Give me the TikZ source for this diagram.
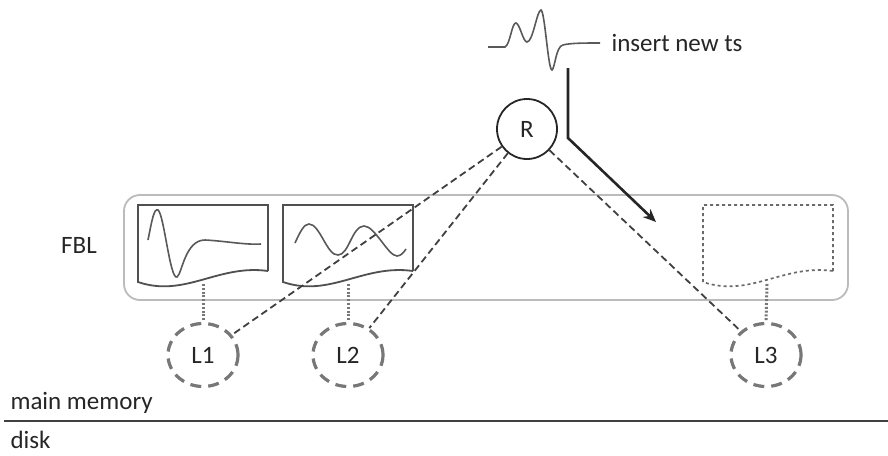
\documentclass[tikz,border=0pt]{standalone}
\usepackage{fontspec}
\setmainfont{Carlito}
\usetikzlibrary{arrows.meta,shapes.geometric}
\definecolor{boxline}{HTML}{505050}
\definecolor{lgray}{HTML}{777777}
\definecolor{fblgray}{HTML}{BBBBBB}
\tikzset{
  lbl/.style={font=\fontsize{25}{29}\selectfont, text=black!85},
  lnode/.style={draw=lgray, line width=3.2pt, dash pattern=on 11pt off 7pt, ellipse, minimum width=70pt, minimum height=63pt, inner sep=0pt, font=\fontsize{25}{29}\selectfont, text=black!85},
  rnode/.style={draw=black!85, line width=1.8pt, circle, minimum size=60pt, inner sep=0pt, font=\fontsize{25}{29}\selectfont, text=black!85},
  doc/.style={draw=boxline, line width=1.8pt},
  wave/.style={draw=black!65, line width=1.6pt},
  link/.style={draw=black!75, line width=1.8pt, dash pattern=on 7pt off 4pt},
  dotlink/.style={draw=lgray, line width=3pt, dash pattern=on 2pt off 1.8pt},
}
\begin{document}
\begin{tikzpicture}[x=1pt,y=-1pt]
\useasboundingbox (0,0) rectangle (888,455);
% FBL container
\draw[fblgray, line width=1.8pt, rounded corners=16pt] (124,195) rectangle (848,300);
\node[lbl] (fbl) at (79,245) {FBL};
% box 1
\draw[doc] (268,271) -- (268,205) -- (138,205) -- (138,282) .. controls (185,298) and (218,264) .. (268,271);
\coordinate (b1) at (203,284);
\draw[wave] (148,240) .. controls (152,220) and (154,208) .. (158,210) .. controls (164,214) and (170,280) .. (177,277) .. controls (182,274) and (185,240) .. (205,240) .. controls (225,241) and (245,245) .. (261,244);
% box 2
\draw[doc] (413,271) -- (413,205) -- (283,205) -- (283,282) .. controls (330,298) and (363,264) .. (413,271);
\coordinate (b2) at (348,284);
\draw[wave] (295,243) .. controls (300,232) and (304,224) .. (309,224) .. controls (320,224) and (327,256) .. (338,255) .. controls (349,255) and (352,226) .. (364,226) .. controls (375,226) and (388,256) .. (397,256) .. controls (401,256) and (404,252) .. (406,249);
% box 3 dotted
\draw[boxline!85, line width=1.7pt, dash pattern=on 3pt off 3pt] (833,271) -- (833,205) -- (703,205) -- (703,282) .. controls (750,298) and (783,264) .. (833,271);
\coordinate (b3) at (767,284);
% L nodes
\node[lnode] (L1) at (203,355) {L1};
\node[lnode] (L2) at (348,355) {L2};
\node[lnode] (L3) at (766,355) {L3};
\draw[dotlink] (b1) -- (L1.north);
\draw[dotlink] (b2) -- (L2.north);
\draw[dotlink] (b3) -- (L3.north);
% R node
\node[rnode] (R) at (527,129) {R};
\draw[link] (R) -- (L1);
\draw[link] (R) -- (L2);
\draw[link] (R) -- (L3);
% new ts wave
\draw[wave] (488,47) -- (505,47) .. controls (510,45) and (512,22) .. (516,23) .. controls (520,24) and (523,42) .. (527,42) .. controls (533,42) and (537,10) .. (541,10) .. controls (545,12) and (548,70) .. (552,70) .. controls (555,68) and (556,46) .. (563,45) .. controls (570,43) and (585,43) .. (600,43);
\node[lbl, anchor=west] (ins) at (608,43) {insert new ts};
% insert arrow
\coordinate (a0) at (568,68);
\coordinate (a1) at (568,138);
\coordinate (a2) at (656,222);
\draw[black!85, line width=2.6pt, -{Stealth[length=13pt,width=11pt]}] (a0) -- (a1) -- (a2);
% memory/disk
\node[lbl, anchor=west] (mm) at (7,403) {main memory};
\node[lbl, anchor=west] (dk) at (7,440) {disk};
\coordinate (m0) at (4,421);
\coordinate (m1) at (888,421);
\draw[black!75, line width=2.2pt] (m0) -- (m1);
\end{tikzpicture}
\end{document}
